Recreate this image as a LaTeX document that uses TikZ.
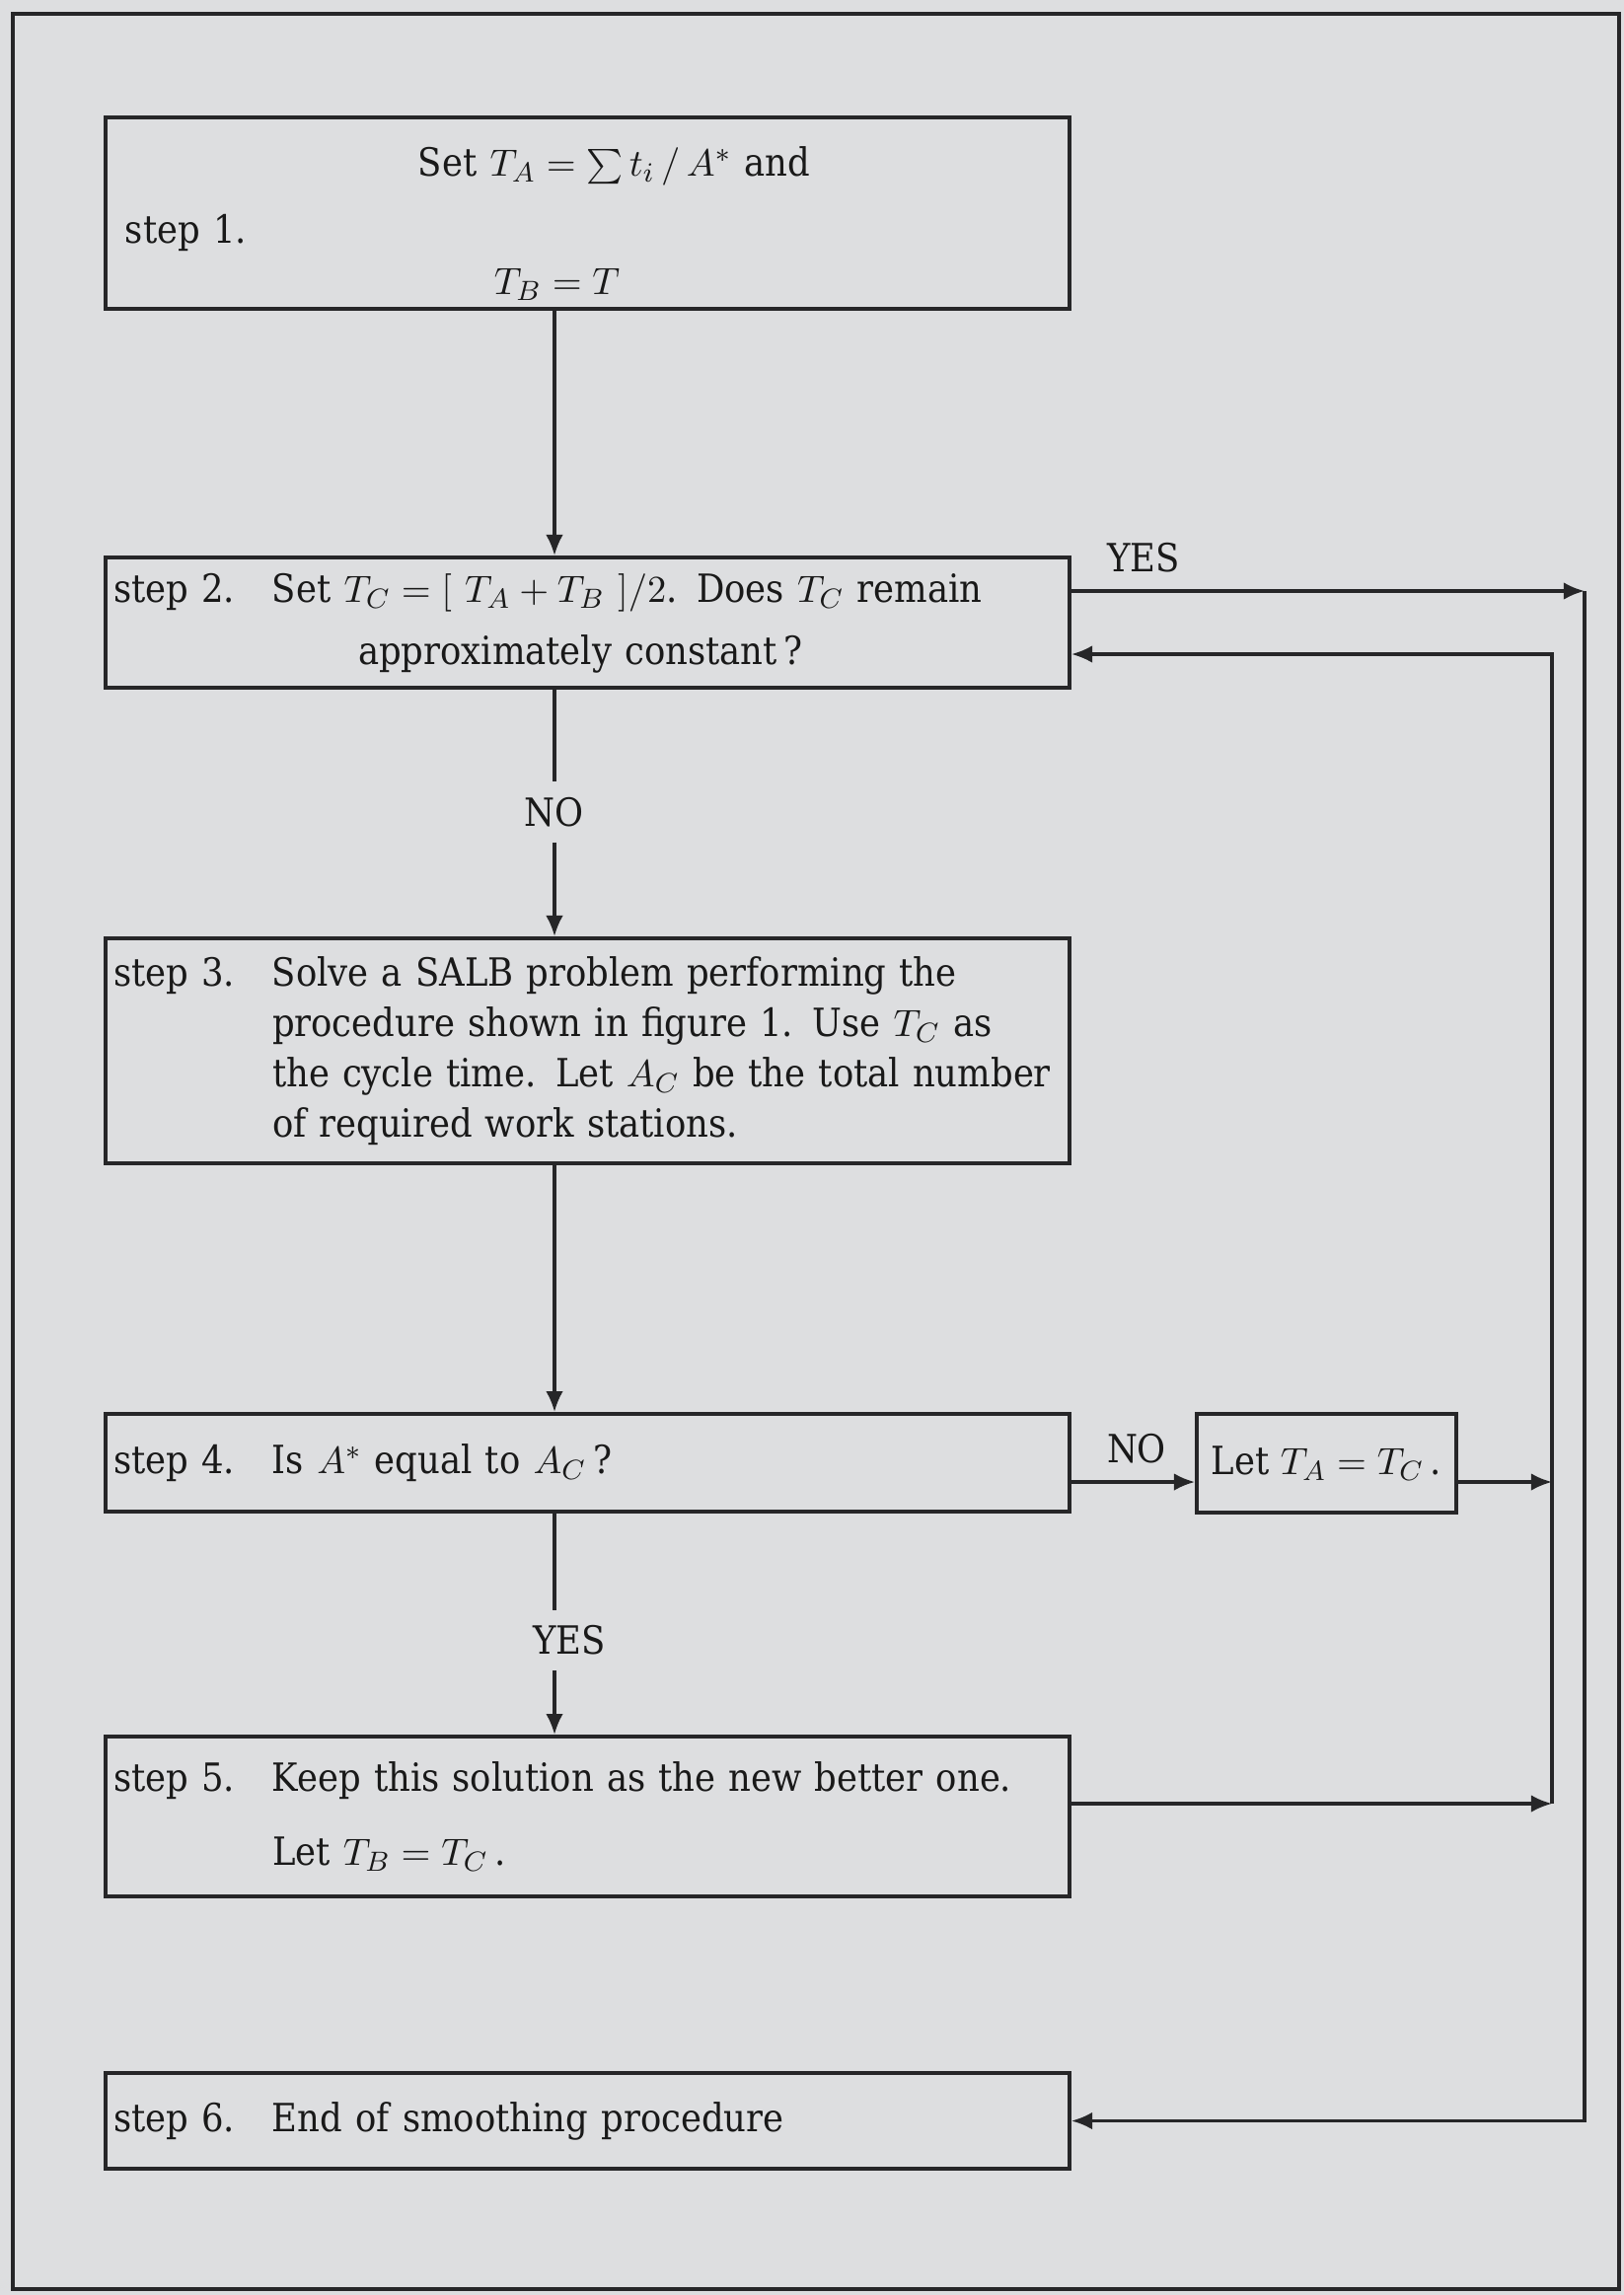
\documentclass[tikz,border=0pt]{standalone}
\usepackage{fontspec}
\setmainfont{DejaVu Serif Condensed}
\usetikzlibrary{arrows.meta}

\definecolor{paper}{RGB}{221,222,224}
\definecolor{ink}{RGB}{38,38,40}

\newcommand{\steptag}[1]{\makebox[1.61cm][l]{#1}}
\newcommand{\stepgap}{\hspace*{1.61cm}}

\tikzset{
  stepbox/.style={draw=ink, line width=1.1pt, minimum width=9.77cm, text width=9.61cm,
    align=left, inner xsep=0.08cm, inner ysep=0pt},
  flow/.style={draw=ink, line width=0.9pt, -{Latex[length=6pt,width=5pt]}},
  wire/.style={draw=ink, line width=0.9pt},
  gap/.style={inner xsep=2pt, inner ysep=0.15cm},
}

\begin{document}
\begin{tikzpicture}[every node/.style={font=\fontsize{11.2}{14.5}\selectfont, text=black!90}]
        % Nen va khung ngoai
        \fill[paper] (0,0) rectangle (16.46,-23.26);
        \draw[ink, line width=0.9pt] (0.13,-0.14) rectangle (16.41,-23.2);

        % Cac buoc
        \node[stepbox, minimum height=1.94cm] (step1) at (5.955,-2.16)
            {\rule{0pt}{0.51cm}\hspace*{3.09cm}Set $T_A = \sum t_i \,/\, A^{*}$ and\\[4.8pt]
             \hspace*{0.12cm}step 1.\\[0.5pt]
             \hspace*{3.86cm}$T_B = T$};
        \node[stepbox, minimum height=1.32cm] (step2) at (5.955,-6.31)
            {\steptag{step 2.}Set $T_C = \big[\ T_A + T_B\ \big]/2$. Does $T_C$ remain\\[3.4pt]
             \hspace*{2.48cm}approximately constant\,?};
        \node[stepbox, minimum height=2.28cm] (step3) at (5.955,-10.65)
            {\steptag{step 3.}Solve a SALB problem performing the\\
             \stepgap procedure shown in figure 1. Use $T_C$ as\\
             \stepgap the cycle time. Let $A_C$ be the total number\\
             \stepgap of required work stations.};
        \node[stepbox, minimum height=0.99cm] (step4) at (5.955,-14.825)
            {\steptag{step 4.}Is $A^{*}$ equal to $A_C$\,?};
        \node[draw=ink, line width=1.1pt, minimum width=2.63cm, minimum height=1cm, inner sep=0pt]
            (settA) at (13.445,-14.83) {Let $T_A = T_C$\,.};
        \node[stepbox, minimum height=1.62cm] (step5) at (5.955,-18.41)
            {\steptag{step 5.}Keep this solution as the new better one.\\[7pt]
             \stepgap Let $T_B = T_C$\,.};
        \node[stepbox, minimum height=0.97cm] (step6) at (5.955,-21.495)
            {\steptag{step 6.}End of smoothing procedure};

        % Nhan
        \node[gap] (no1) at (5.62,-8.23) {NO};
        \node[gap] (yes1) at (5.77,-16.625) {YES};
        \node[inner sep=0pt] (yes2) at (11.59,-5.65) {YES};
        \node[inner sep=0pt] (no2) at (11.52,-14.68) {NO};

        % Duong chinh
        \coordinate (spine) at (5.62,0);
        \draw[flow] (step1.south -| spine) -- (step2.north -| spine);
        \draw[wire] (step2.south -| spine) -- (no1.north -| spine);
        \draw[flow] (no1.south -| spine) -- (step3.north -| spine);
        \draw[flow] (step3.south -| spine) -- (step4.north -| spine);
        \draw[wire] (step4.south -| spine) -- (yes1.north -| spine);
        \draw[flow] (yes1.south -| spine) -- (step5.north -| spine);

        % Vong lap ben phai
        \coordinate (outer) at (16.06,0);
        \coordinate (inner) at (15.73,0);
        \coordinate (s2out) at ([yshift=0.32cm]step2.east);
        \coordinate (s2in) at ([yshift=-0.32cm]step2.east);
        \coordinate (s4out) at ([yshift=-0.195cm]step4.east);
        \coordinate (s5out) at ([yshift=0.13cm]step5.east);

        \draw[flow] (s2out) -- (s2out -| outer);
        \draw[flow] (s2out -| outer) -- (step6.east -| outer) -- (step6.east);
        \draw[flow] (s4out) -- (s4out -| settA.west);
        \draw[flow] (s4out -| settA.east) -- (s4out -| inner);
        \draw[flow] (s5out) -- (s5out -| inner);
        \draw[flow] (s5out -| inner) -- (s2in -| inner) -- (s2in);
    \end{tikzpicture}
\end{document}
